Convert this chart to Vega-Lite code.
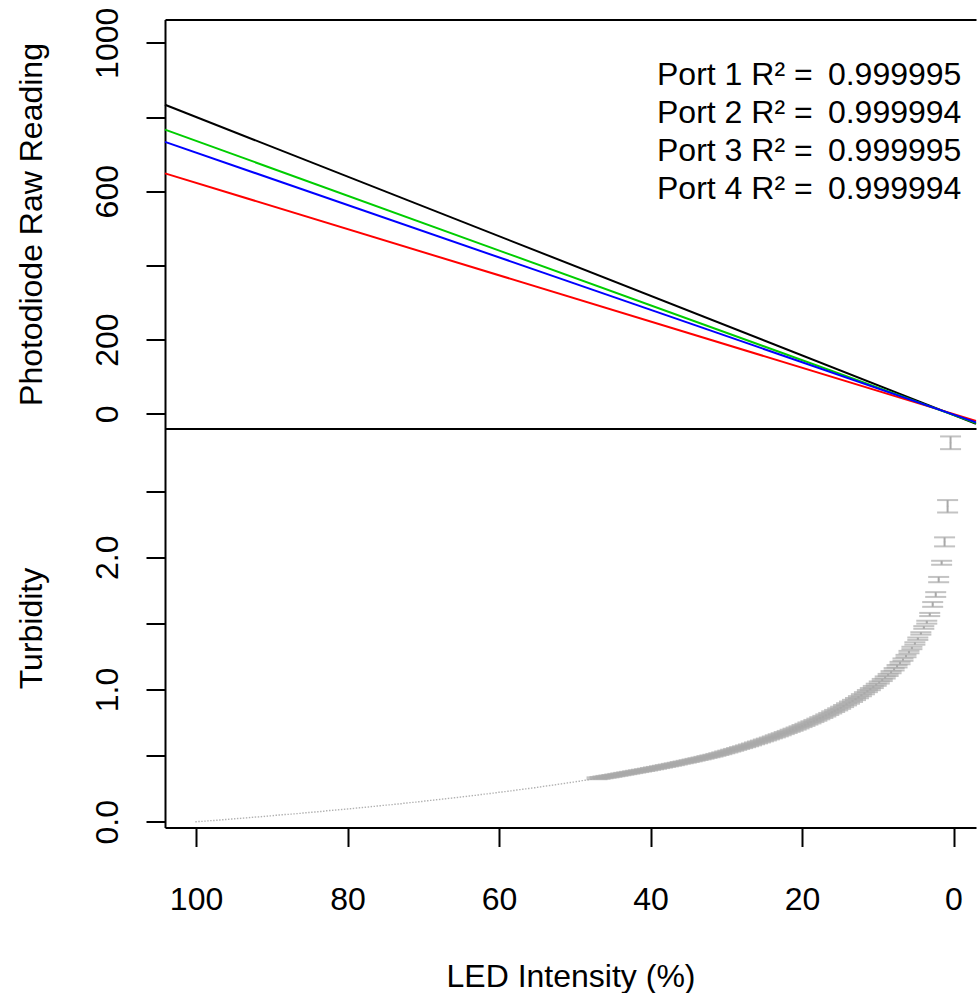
{
 "$schema": "https://vega.github.io/schema/vega-lite/v6.json",
 "background": "white",
 "padding": {"left": 14, "top": 6.5, "right": 0, "bottom": 0},
 "spacing": 0,
 "bounds": "flush",
 "config": {
  "font": "Liberation Sans",
  "view": {"stroke": null},
  "axis": {"domainColor": "black", "domainWidth": 2, "tickColor": "black", "tickWidth": 2, "tickSize": 19, "labelFontSize": 32, "titleFontSize": 32, "labelColor": "black", "titleColor": "black", "titleFontWeight": "normal", "grid": false, "labelOverlap": false, "labelFlush": false, "labelBound": false, "labelFont": "Liberation Sans", "titleFont": "Liberation Sans"}
 },
 "datasets": {
  "lines": [
   {"label": "Port 1 R\u00b2 =\u2009 0.999995", "x": 104.1, "y": 833},
   {"label": "Port 1 R\u00b2 =\u2009 0.999995", "x": -2.97, "y": -27},
   {"label": "Port 2 R\u00b2 =\u2009 0.999994", "x": 104.1, "y": 648},
   {"label": "Port 2 R\u00b2 =\u2009 0.999994", "x": -2.97, "y": -19},
   {"label": "Port 3 R\u00b2 =\u2009 0.999995", "x": 104.1, "y": 766},
   {"label": "Port 3 R\u00b2 =\u2009 0.999995", "x": -2.97, "y": -25},
   {"label": "Port 4 R\u00b2 =\u2009 0.999994", "x": 104.1, "y": 733},
   {"label": "Port 4 R\u00b2 =\u2009 0.999994", "x": -2.97, "y": -23}
  ],
  "turb": [
   {"x":0.39,"t":2.865,"e":0.048},{"x":0.78,"t":2.385,"e":0.047},{"x":1.18,"t":2.116,"e":0.034},{"x":1.57,"t":1.958,"e":0.015},{"x":1.96,"t":1.831,"e":0.02},
   {"x":2.35,"t":1.718,"e":0.018},{"x":2.75,"t":1.643,"e":0.018},{"x":3.14,"t":1.567,"e":0.012},{"x":3.53,"t":1.509,"e":0.011},{"x":3.92,"t":1.469,"e":0.01},
   {"x":4.31,"t":1.424,"e":0.009},{"x":4.71,"t":1.384,"e":0.009},{"x":5.10,"t":1.348,"e":0.009},{"x":5.49,"t":1.314,"e":0.009},{"x":5.88,"t":1.283,"e":0.009},
   {"x":6.27,"t":1.253,"e":0.009},{"x":6.67,"t":1.226,"e":0.009},{"x":7.06,"t":1.200,"e":0.009},{"x":7.45,"t":1.176,"e":0.009},{"x":7.84,"t":1.153,"e":0.009},
   {"x":8.24,"t":1.131,"e":0.008},{"x":8.63,"t":1.110,"e":0.008},{"x":9.02,"t":1.091,"e":0.008},{"x":9.41,"t":1.072,"e":0.008},{"x":9.80,"t":1.053,"e":0.008},
   {"x":10.20,"t":1.036,"e":0.008},{"x":10.59,"t":1.019,"e":0.008},{"x":10.98,"t":1.003,"e":0.008},{"x":11.37,"t":0.988,"e":0.008},{"x":11.76,"t":0.972,"e":0.008},
   {"x":12.16,"t":0.957,"e":0.008},{"x":12.55,"t":0.942,"e":0.008},{"x":12.94,"t":0.928,"e":0.008},{"x":13.33,"t":0.914,"e":0.008},{"x":13.73,"t":0.901,"e":0.008},
   {"x":14.12,"t":0.888,"e":0.008},{"x":14.51,"t":0.875,"e":0.008},{"x":14.90,"t":0.862,"e":0.008},{"x":15.29,"t":0.850,"e":0.008},{"x":15.69,"t":0.838,"e":0.008},
   {"x":16.08,"t":0.827,"e":0.008},{"x":16.47,"t":0.815,"e":0.008},{"x":16.86,"t":0.804,"e":0.008},{"x":17.25,"t":0.793,"e":0.008},{"x":17.65,"t":0.783,"e":0.008},
   {"x":18.04,"t":0.772,"e":0.008},{"x":18.43,"t":0.762,"e":0.008},{"x":18.82,"t":0.752,"e":0.008},{"x":19.22,"t":0.743,"e":0.008},{"x":19.61,"t":0.733,"e":0.008},
   {"x":20.00,"t":0.724,"e":0.008},{"x":20.39,"t":0.714,"e":0.008},{"x":20.78,"t":0.705,"e":0.008},{"x":21.18,"t":0.696,"e":0.008},{"x":21.57,"t":0.688,"e":0.008},
   {"x":21.96,"t":0.679,"e":0.008},{"x":22.35,"t":0.671,"e":0.008},{"x":22.75,"t":0.662,"e":0.008},{"x":23.14,"t":0.654,"e":0.008},{"x":23.53,"t":0.646,"e":0.008},
   {"x":23.92,"t":0.638,"e":0.007},{"x":24.31,"t":0.630,"e":0.007},{"x":24.71,"t":0.622,"e":0.007},{"x":25.10,"t":0.615,"e":0.007},{"x":25.49,"t":0.607,"e":0.007},
   {"x":25.88,"t":0.600,"e":0.007},{"x":26.27,"t":0.593,"e":0.007},{"x":26.67,"t":0.585,"e":0.007},{"x":27.06,"t":0.578,"e":0.007},{"x":27.45,"t":0.571,"e":0.007},
   {"x":27.84,"t":0.564,"e":0.007},{"x":28.24,"t":0.558,"e":0.007},{"x":28.63,"t":0.551,"e":0.007},{"x":29.02,"t":0.544,"e":0.007},{"x":29.41,"t":0.538,"e":0.007},
   {"x":29.80,"t":0.531,"e":0.007},{"x":30.20,"t":0.525,"e":0.007},{"x":30.59,"t":0.518,"e":0.007},{"x":30.98,"t":0.512,"e":0.007},{"x":31.37,"t":0.506,"e":0.007},
   {"x":31.76,"t":0.500,"e":0.007},{"x":32.16,"t":0.495,"e":0.007},{"x":32.55,"t":0.490,"e":0.007},{"x":32.94,"t":0.484,"e":0.007},{"x":33.33,"t":0.479,"e":0.007},
   {"x":33.73,"t":0.474,"e":0.007},{"x":34.12,"t":0.469,"e":0.007},{"x":34.51,"t":0.464,"e":0.007},{"x":34.90,"t":0.459,"e":0.007},{"x":35.29,"t":0.454,"e":0.007},
   {"x":35.69,"t":0.449,"e":0.007},{"x":36.08,"t":0.445,"e":0.007},{"x":36.47,"t":0.440,"e":0.007},{"x":36.86,"t":0.435,"e":0.007},{"x":37.25,"t":0.431,"e":0.007},
   {"x":37.65,"t":0.426,"e":0.007},{"x":38.04,"t":0.422,"e":0.007},{"x":38.43,"t":0.417,"e":0.007},{"x":38.82,"t":0.413,"e":0.007},{"x":39.22,"t":0.408,"e":0.007},
   {"x":39.61,"t":0.404,"e":0.007},{"x":40.00,"t":0.400,"e":0.007},{"x":40.39,"t":0.395,"e":0.007},{"x":40.78,"t":0.391,"e":0.007},{"x":41.18,"t":0.387,"e":0.007},
   {"x":41.57,"t":0.383,"e":0.007},{"x":41.96,"t":0.379,"e":0.007},{"x":42.35,"t":0.375,"e":0.007},{"x":42.75,"t":0.371,"e":0.007},{"x":43.14,"t":0.367,"e":0.007},
   {"x":43.53,"t":0.363,"e":0.007},{"x":43.92,"t":0.359,"e":0.007},{"x":44.31,"t":0.355,"e":0.007},{"x":44.71,"t":0.351,"e":0.007},{"x":45.10,"t":0.347,"e":0.007},
   {"x":45.49,"t":0.343,"e":0.007},{"x":45.88,"t":0.340,"e":0.007},{"x":46.27,"t":0.336,"e":0.007},{"x":46.67,"t":0.332,"e":0.007},{"x":47.06,"t":0.329,"e":0.007},
   {"x":47.45,"t":0.325,"e":0},{"x":47.84,"t":0.321,"e":0},{"x":48.24,"t":0.318,"e":0},{"x":48.63,"t":0.314,"e":0},{"x":49.02,"t":0.311,"e":0},
   {"x":49.41,"t":0.307,"e":0},{"x":49.80,"t":0.304,"e":0},{"x":50.20,"t":0.300,"e":0},{"x":50.59,"t":0.297,"e":0},{"x":50.98,"t":0.294,"e":0},
   {"x":51.37,"t":0.290,"e":0},{"x":51.76,"t":0.287,"e":0},{"x":52.16,"t":0.284,"e":0},{"x":52.55,"t":0.280,"e":0},{"x":52.94,"t":0.277,"e":0},
   {"x":53.33,"t":0.274,"e":0},{"x":53.73,"t":0.271,"e":0},{"x":54.12,"t":0.268,"e":0},{"x":54.51,"t":0.264,"e":0},{"x":54.90,"t":0.261,"e":0},
   {"x":55.29,"t":0.258,"e":0},{"x":55.69,"t":0.255,"e":0},{"x":56.08,"t":0.252,"e":0},{"x":56.47,"t":0.249,"e":0},{"x":56.86,"t":0.246,"e":0},
   {"x":57.25,"t":0.243,"e":0},{"x":57.65,"t":0.240,"e":0},{"x":58.04,"t":0.237,"e":0},{"x":58.43,"t":0.234,"e":0},{"x":58.82,"t":0.231,"e":0},
   {"x":59.22,"t":0.228,"e":0},{"x":59.61,"t":0.225,"e":0},{"x":60.00,"t":0.223,"e":0},{"x":60.39,"t":0.220,"e":0},{"x":60.78,"t":0.217,"e":0},
   {"x":61.18,"t":0.214,"e":0},{"x":61.57,"t":0.211,"e":0},{"x":61.96,"t":0.209,"e":0},{"x":62.35,"t":0.206,"e":0},{"x":62.75,"t":0.203,"e":0},
   {"x":63.14,"t":0.200,"e":0},{"x":63.53,"t":0.198,"e":0},{"x":63.92,"t":0.195,"e":0},{"x":64.31,"t":0.192,"e":0},{"x":64.71,"t":0.190,"e":0},
   {"x":65.10,"t":0.187,"e":0},{"x":65.49,"t":0.184,"e":0},{"x":65.88,"t":0.182,"e":0},{"x":66.27,"t":0.179,"e":0},{"x":66.67,"t":0.177,"e":0},
   {"x":67.06,"t":0.174,"e":0},{"x":67.45,"t":0.172,"e":0},{"x":67.84,"t":0.169,"e":0},{"x":68.24,"t":0.167,"e":0},{"x":68.63,"t":0.164,"e":0},
   {"x":69.02,"t":0.162,"e":0},{"x":69.41,"t":0.159,"e":0},{"x":69.80,"t":0.157,"e":0},{"x":70.20,"t":0.154,"e":0},{"x":70.59,"t":0.152,"e":0},
   {"x":70.98,"t":0.149,"e":0},{"x":71.37,"t":0.147,"e":0},{"x":71.76,"t":0.145,"e":0},{"x":72.16,"t":0.142,"e":0},{"x":72.55,"t":0.140,"e":0},
   {"x":72.94,"t":0.137,"e":0},{"x":73.33,"t":0.135,"e":0},{"x":73.73,"t":0.133,"e":0},{"x":74.12,"t":0.130,"e":0},{"x":74.51,"t":0.128,"e":0},
   {"x":74.90,"t":0.126,"e":0},{"x":75.29,"t":0.124,"e":0},{"x":75.69,"t":0.121,"e":0},{"x":76.08,"t":0.119,"e":0},{"x":76.47,"t":0.117,"e":0},
   {"x":76.86,"t":0.115,"e":0},{"x":77.25,"t":0.112,"e":0},{"x":77.65,"t":0.110,"e":0},{"x":78.04,"t":0.108,"e":0},{"x":78.43,"t":0.106,"e":0},
   {"x":78.82,"t":0.104,"e":0},{"x":79.22,"t":0.101,"e":0},{"x":79.61,"t":0.099,"e":0},{"x":80.00,"t":0.097,"e":0},{"x":80.39,"t":0.095,"e":0},
   {"x":80.78,"t":0.093,"e":0},{"x":81.18,"t":0.091,"e":0},{"x":81.57,"t":0.089,"e":0},{"x":81.96,"t":0.087,"e":0},{"x":82.35,"t":0.085,"e":0},
   {"x":82.75,"t":0.083,"e":0},{"x":83.14,"t":0.080,"e":0},{"x":83.53,"t":0.078,"e":0},{"x":83.92,"t":0.076,"e":0},{"x":84.31,"t":0.074,"e":0},
   {"x":84.71,"t":0.072,"e":0},{"x":85.10,"t":0.070,"e":0},{"x":85.49,"t":0.068,"e":0},{"x":85.88,"t":0.066,"e":0},{"x":86.27,"t":0.064,"e":0},
   {"x":86.67,"t":0.062,"e":0},{"x":87.06,"t":0.060,"e":0},{"x":87.45,"t":0.058,"e":0},{"x":87.84,"t":0.056,"e":0},{"x":88.24,"t":0.055,"e":0},
   {"x":88.63,"t":0.053,"e":0},{"x":89.02,"t":0.051,"e":0},{"x":89.41,"t":0.049,"e":0},{"x":89.80,"t":0.047,"e":0},{"x":90.20,"t":0.045,"e":0},
   {"x":90.59,"t":0.043,"e":0},{"x":90.98,"t":0.041,"e":0},{"x":91.37,"t":0.039,"e":0},{"x":91.76,"t":0.037,"e":0},{"x":92.16,"t":0.036,"e":0},
   {"x":92.55,"t":0.034,"e":0},{"x":92.94,"t":0.032,"e":0},{"x":93.33,"t":0.030,"e":0},{"x":93.73,"t":0.028,"e":0},{"x":94.12,"t":0.026,"e":0},
   {"x":94.51,"t":0.025,"e":0},{"x":94.90,"t":0.023,"e":0},{"x":95.29,"t":0.021,"e":0},{"x":95.69,"t":0.019,"e":0},{"x":96.08,"t":0.017,"e":0},
   {"x":96.47,"t":0.016,"e":0},{"x":96.86,"t":0.014,"e":0},{"x":97.25,"t":0.012,"e":0},{"x":97.65,"t":0.010,"e":0},{"x":98.04,"t":0.009,"e":0},
   {"x":98.43,"t":0.007,"e":0},{"x":98.82,"t":0.005,"e":0},{"x":99.22,"t":0.003,"e":0},{"x":99.61,"t":0.002,"e":0},{"x":100.00,"t":0.000,"e":0}
  ]
 },
 "vconcat": [
  {
   "width": 811,
   "height": 409,
   "data": {"name": "lines"},
   "layer": [
    {
     "mark": {"type": "line", "strokeWidth": 2},
     "encoding": {
      "x": {"field": "x", "type": "quantitative", "title": null,
            "scale": {"domain": [-2.97, 104.1], "reverse": true, "nice": false, "zero": false},
            "axis": {"orient": "bottom", "ticks": false, "labels": false, "title": null}},
      "y": {"field": "y", "type": "quantitative", "title": "Photodiode Raw Reading",
            "scale": {"domain": [-39.6, 1062.8], "nice": false, "zero": false},
            "axis": {"values": [0, 200, 400, 600, 800, 1000], "format": "d",
                     "labelExpr": "datum.value == 400 || datum.value == 800 ? '' : datum.label",
                     "labelAngle": -90, "labelAlign": "center", "labelBaseline": "bottom",
                     "labelPadding": 22, "titlePadding": 43}},
      "color": {"field": "label", "type": "nominal",
                "scale": {"domain": ["Port 1 R\u00b2 =\u2009 0.999995", "Port 2 R\u00b2 =\u2009 0.999994", "Port 3 R\u00b2 =\u2009 0.999995", "Port 4 R\u00b2 =\u2009 0.999994"],
                          "range": ["black", "#FF0000", "#00CD00", "#0000FF"]},
                "legend": {"orient": "none", "legendX": 460, "legendY": 39, "title": null,
                           "labelFontSize": 32, "labelLimit": 0, "labelColor": "black", "labelFont": "Liberation Sans",
                           "symbolSize": 0, "symbolOpacity": 0, "symbolStrokeWidth": 0,
                           "labelOffset": 0, "rowPadding": 6, "padding": 0}}
     }
    },
    {
     "mark": {"type": "point", "opacity": 0},
     "encoding": {
      "x": {"field": "x", "type": "quantitative", "title": null,
            "axis": {"orient": "top", "ticks": false, "labels": false, "title": null}},
      "y": {"field": "y", "type": "quantitative", "title": "Photodiode Raw Reading"}
     }
    }
   ],
   "resolve": {"axis": {"x": "independent"}}
  },
  {
   "width": 811,
   "height": 399,
   "data": {"name": "turb"},
   "layer": [
    {
     "mark": {"type": "square", "size": 2, "color": "#A9A9A9", "opacity": 0.9},
     "encoding": {
      "x": {"field": "x", "type": "quantitative", "title": "LED Intensity (%)",
            "scale": {"domain": [-2.97, 104.1], "reverse": true, "nice": false, "zero": false},
            "axis": {"values": [0, 20, 40, 60, 80, 100], "format": "d", "labelPadding": 38, "titlePadding": 46}},
      "y": {"field": "t", "type": "quantitative", "title": "Turbidity",
            "scale": {"domain": [-0.043, 2.973], "nice": false, "zero": false},
            "axis": {"values": [0, 0.5, 1, 1.5, 2, 2.5],
                     "labelExpr": "datum.value == 0 || datum.value == 1 || datum.value == 2 ? format(datum.value, '.1f') : ''",
                     "labelAngle": -90, "labelAlign": "center", "labelBaseline": "bottom",
                     "labelPadding": 22, "titlePadding": 43}}
     }
    },
    {
     "transform": [{"filter": "datum.e > 0"}],
     "mark": {"type": "errorbar", "ticks": true, "size": 21, "thickness": 2, "color": "#A9A9A9"},
     "encoding": {
      "x": {"field": "x", "type": "quantitative", "title": "LED Intensity (%)"},
      "y": {"field": "t", "type": "quantitative", "title": "Turbidity"},
      "yError": {"field": "e"}
     }
    }
   ]
  }
 ]
}
